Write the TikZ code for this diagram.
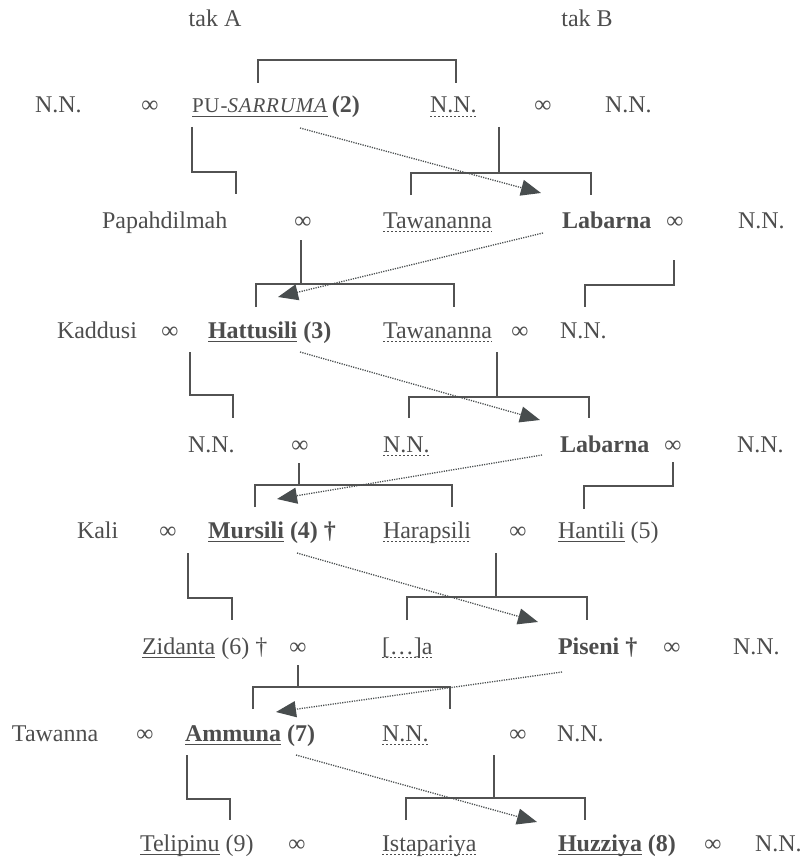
\documentclass[tikz,border=0pt]{standalone}
\usepackage{fontspec}
\setmainfont{Liberation Serif}
\usetikzlibrary{arrows.meta,calc}
\definecolor{ink}{HTML}{4D4D4D}
\definecolor{lin}{HTML}{525252}
\definecolor{arr}{HTML}{484D4E}
\tikzset{
  x=1pt,y=-1pt,
  every node/.style={inner sep=0pt,outer sep=0pt,text=ink,font=\fontsize{24}{28}\selectfont},
  nm/.style={anchor=base west},
  bd/.style={anchor=base west,font=\fontsize{24}{28}\selectfont\bfseries},
  inf/.style={anchor=base},
  tree/.style={draw=lin,line width=1.6pt},
  sul/.style={draw=ink,line width=1.2pt},
  dul/.style={draw=ink,line width=1.1pt,dash pattern=on 2.4pt off 1.6pt},
  heir/.style={draw=arr,line width=1.3pt,dash pattern=on 1.2pt off 1.2pt,-{Triangle[length=20pt,width=16pt,fill=arr]}}
}
\newcommand{\ulS}[1]{\draw[sul] ($(#1.base west)+(0,3.5)$) -- ($(#1.base east)+(0,3.5)$);}
\newcommand{\ulD}[1]{\draw[dul] ($(#1.base west)+(0,3.5)$) -- ($(#1.base east)+(0,3.5)$);}
\begin{document}
\begin{tikzpicture}
\useasboundingbox (0,0) rectangle (803,861);
% headers
\node[inf] (takA) at (215,27) {tak A};
\node[inf] (takB) at (587,27) {tak B};
% row 1
\node[nm] (r1a) at (35,113) {N.N.};
\node[inf] (r1i) at (150,113) {∞};
\node[nm,font=\fontsize{21}{24}\selectfont\addfontfeature{LetterSpace=4}] (pu) at (192,113) {PU-\textit{SARRUMA}};
\node[bd] (pun) at ($(pu.base east)+(4,0)$) {(2)};
\node[nm] (r1b) at (430,113) {N.N.};
\node[inf] (r1j) at (543,113) {∞};
\node[nm] (r1c) at (605,113) {N.N.};
% row 2
\node[nm] (papa) at (102,228) {Papahdilmah};
\node[inf] (r2i) at (303,228) {∞};
\node[nm] (tawa1) at (383,228) {Tawananna};
\node[bd] (lab1) at (562,228) {Labarna};
\node[inf] (r2j) at (675,228) {∞};
\node[nm] (r2c) at (738,228) {N.N.};
% row 3
\node[nm] (kad) at (57,338) {Kaddusi};
\node[inf] (r3i) at (170,338) {∞};
\node[bd] (hat) at (208,338) {Hattusili};
\node[bd] (hatn) at ($(hat.base east)+(6,0)$) {(3)};
\node[nm] (tawa2) at (383,338) {Tawananna};
\node[inf] (r3j) at (520,338) {∞};
\node[nm] (r3c) at (560,338) {N.N.};
% row 4
\node[nm] (r4a) at (188,452) {N.N.};
\node[inf] (r4i) at (300,452) {∞};
\node[nm] (r4b) at (383,452) {N.N.};
\node[bd] (lab2) at (560,452) {Labarna};
\node[inf] (r4j) at (673,452) {∞};
\node[nm] (r4c) at (737,452) {N.N.};
% row 5
\node[nm] (kali) at (77,538) {Kali};
\node[inf] (r5i) at (168,538) {∞};
\node[bd] (mur) at (208,538) {Mursili};
\node[bd] (murn) at ($(mur.base east)+(6,0)$) {(4) †};
\node[nm] (hara) at (383,538) {Harapsili};
\node[inf] (r5j) at (518,538) {∞};
\node[nm] (han) at (558,538) {Hantili};
\node[nm] (hann) at ($(han.base east)+(6,0)$) {(5)};
% row 6
\node[nm] (zid) at (142,654) {Zidanta};
\node[nm] (zidn) at ($(zid.base east)+(6,0)$) {(6) †};
\node[inf] (r6i) at (298,654) {∞};
\node[nm] (dots) at (382,654) {[…]a};
\node[bd] (pis) at (558,654) {Piseni †};
\node[inf] (r6j) at (672,654) {∞};
\node[nm] (r6c) at (733,654) {N.N.};
% row 7
\node[nm] (tawn) at (12,741) {Tawanna};
\node[inf] (r7i) at (145,741) {∞};
\node[bd] (amm) at (185,741) {Ammuna};
\node[bd] (ammn) at ($(amm.base east)+(6,0)$) {(7)};
\node[nm] (r7b) at (382,741) {N.N.};
\node[inf] (r7j) at (518,741) {∞};
\node[nm] (r7c) at (557,741) {N.N.};
% row 8
\node[nm] (tel) at (140,851) {Telipinu};
\node[nm] (teln) at ($(tel.base east)+(6,0)$) {(9)};
\node[inf] (r8i) at (297,851) {∞};
\node[nm] (ista) at (382,851) {Istapariya};
\node[bd] (huz) at (558,851) {Huzziya};
\node[bd] (huzn) at ($(huz.base east)+(6,0)$) {(8)};
\node[inf] (r8j) at (713,851) {∞};
\node[nm] (r8c) at (755,851) {N.N.};
% underlines
\ulS{pu} \ulS{hat} \ulS{mur} \ulS{han} \ulS{zid} \ulS{amm} \ulS{tel} \ulS{huz}
\ulD{r1b} \ulD{tawa1} \ulD{tawa2} \ulD{r4b} \ulD{hara} \ulD{dots} \ulD{r7b} \ulD{ista}
% family lines
\draw[tree] (258,83) -- (258,60) -- (456,60) -- (456,83);
\draw[tree] (192,127) -- (192,172) -- (236,172) -- (236,194);
\draw[tree] (499,127) -- (499,173);
\draw[tree] (411,195) -- (411,173) -- (591,173) -- (591,195);
\draw[tree] (301,240) -- (301,284);
\draw[tree] (256,307) -- (256,284) -- (454,284) -- (454,307);
\draw[tree] (674,260) -- (674,285) -- (585,285) -- (585,307);
\draw[tree] (190,352) -- (190,395) -- (233,395) -- (233,418);
\draw[tree] (497,352) -- (497,397);
\draw[tree] (409,418) -- (409,397) -- (589,397) -- (589,418);
\draw[tree] (299,463) -- (299,485);
\draw[tree] (255,507) -- (255,485) -- (452,485) -- (452,507);
\draw[tree] (673,462) -- (673,486) -- (584,486) -- (584,509);
\draw[tree] (188,553) -- (188,598) -- (232,598) -- (232,620);
\draw[tree] (496,553) -- (496,597);
\draw[tree] (407,620) -- (407,597) -- (587,597) -- (587,620);
\draw[tree] (298,665) -- (298,687);
\draw[tree] (253,709) -- (253,687) -- (450,687) -- (450,709);
\draw[tree] (187,755) -- (187,799) -- (230,799) -- (230,820);
\draw[tree] (494,755) -- (494,798);
\draw[tree] (406,820) -- (406,798) -- (585,798) -- (585,820);
% succession arrows
\coordinate (s1) at (300,128); \coordinate (e1) at (541,193);
\coordinate (s2) at (543,233); \coordinate (e2) at (278,297);
\coordinate (s3) at (300,352); \coordinate (e3) at (540,420);
\coordinate (s4) at (542,455); \coordinate (e4) at (277,499);
\coordinate (s5) at (297,553); \coordinate (e5) at (538,622);
\coordinate (s6) at (562,672); \coordinate (e6) at (276,712);
\coordinate (s7) at (296,755); \coordinate (e7) at (537,822);
\draw[heir] (s1) -- (e1);
\draw[heir] (s2) -- (e2);
\draw[heir] (s3) -- (e3);
\draw[heir] (s4) -- (e4);
\draw[heir] (s5) -- (e5);
\draw[heir] (s6) -- (e6);
\draw[heir] (s7) -- (e7);
\end{tikzpicture}
\end{document}
